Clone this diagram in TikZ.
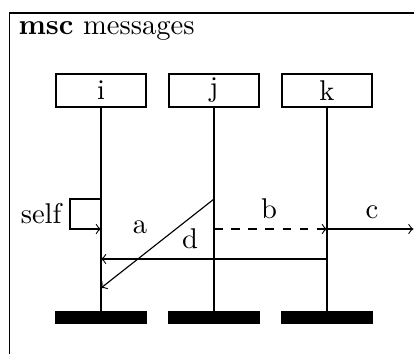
\documentclass[tikz,border=0pt]{standalone}
\usetikzlibrary{positioning}
\begin{document}
\begin{tikzpicture}[x=0.0123cm, y=-0.0123cm,
  head/.style={draw, minimum width=1.107cm, minimum height=0.406cm, inner sep=0pt},
  stopbar/.style={fill, minimum width=1.13cm, minimum height=0.154cm, inner sep=0pt},
  msg/.style={->},
  lbl/.style={inner sep=0pt, anchor=base}]
\useasboundingbox (0,0) rectangle (414,354);
% frame
\draw (9.5,354) |- (414,13);
\node [lbl, anchor=base west] (title) at (18,34) {\textbf{msc} messages};
% instances
\node [head] (i) at (101,90.5) {i};
\node [head] (j) at (214,90.5) {j};
\node [head] (k) at (327,90.5) {k};
\node [stopbar] (iend) at (101,317.5) {};
\node [stopbar] (jend) at (214,317.5) {};
\node [stopbar] (kend) at (327,317.5) {};
\draw (i.south) -- (iend.north);
\draw (j.south) -- (jend.north);
\draw (k.south) -- (kend.north);
% message points
\coordinate (i1) at (101,199);
\coordinate (i2) at (101,229);
\coordinate (i3) at (101,259);
\coordinate (i4) at (101,288);
\coordinate (s1) at (70,199);
\coordinate (s2) at (70,229);
\coordinate (j1) at (214,199);
\coordinate (j2) at (214,229);
\coordinate (k2) at (327,229);
\coordinate (k3) at (327,259);
\coordinate (out) at (413.5,229);
% messages
\draw [msg] (i1) -- (s1) -- (s2) -- (i2);
\draw [msg] (j1) -- (i4);
\draw [msg, dashed] (j2) -- (k2);
\draw [msg] (k2) -- (out);
\draw [msg] (k3) -- (i3);
% labels
\node [lbl, anchor=base east] (self) at (62,223) {self};
\node [lbl] (a) at (140,233) {a};
\node [lbl] (b) at (269,218) {b};
\node [lbl] (c) at (372,218) {c};
\node [lbl] (d) at (190,248) {d};
\end{tikzpicture}
\end{document}
